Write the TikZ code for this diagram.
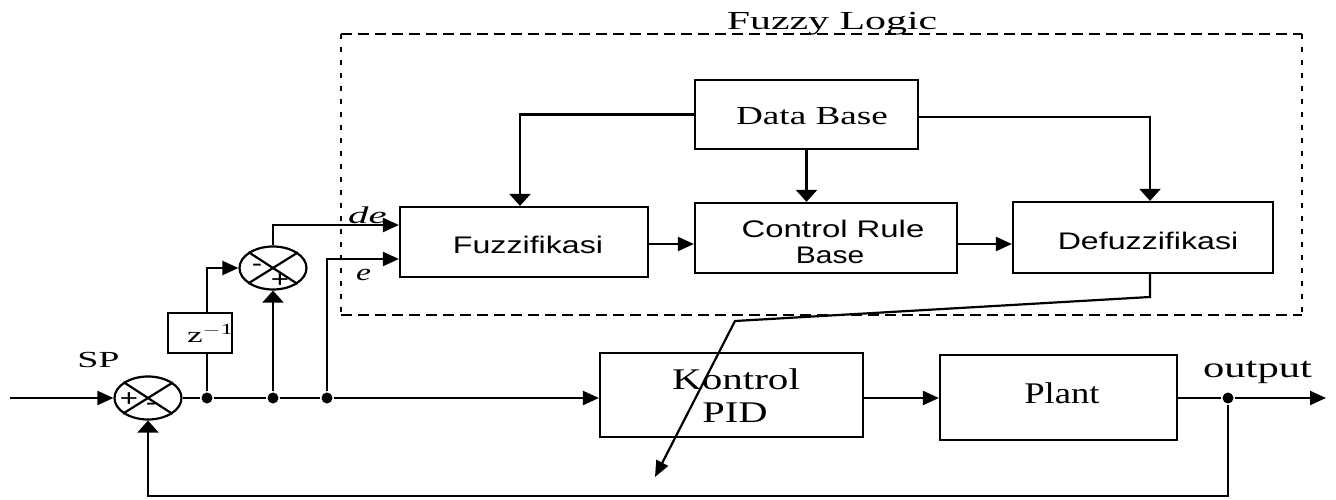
\documentclass[tikz,border=0pt]{standalone}
\usepackage{graphicx}
\usepackage{fontspec}
\setmainfont{Liberation Serif}
\setsansfont{Liberation Sans}
\usetikzlibrary{arrows.meta,shapes.geometric,calc}
\newcommand{\sxt}[2]{\scalebox{#1}[1]{#2}}
\newcommand{\fsz}[1]{\fontsize{#1}{#1}\selectfont}
\begin{document}
\begin{tikzpicture}[x=1pt,y=-1pt,
  line width=2.2pt,
  blk/.style={draw,rectangle,inner sep=0pt,line width=2.2pt},
  sumj/.style={draw,ellipse,minimum width=67pt,minimum height=43pt,inner sep=0pt,line width=2.2pt},
  lbl/.style={inner sep=0pt,anchor=base},
  ha/.style={-{Triangle[length=16pt,width=14pt]}},
  va/.style={-{Triangle[length=12pt,width=21pt]}},
  da/.style={-{Triangle[length=16pt,width=13pt]}},
  dotn/.style={circle,fill,inner sep=0pt,minimum size=11pt},
  hdash/.style={line width=1.9pt,dash pattern=on 11pt off 6pt},
  vdash/.style={line width=1.9pt,dash pattern=on 5pt off 8pt},
  sgn/.style={inner sep=0pt},
]
\useasboundingbox[fill=white] (0,0) rectangle (1336,500);

% fuzzy logic frame
\coordinate (fl1) at (341,34);
\coordinate (fl2) at (1302,34);
\coordinate (fl3) at (1302,315);
\coordinate (fl4) at (341,315);
\draw[hdash] (fl1) -- (fl2);
\draw[hdash] (fl4) -- (fl3);
\draw[vdash] (fl1) -- (fl4);
\draw[vdash] (fl2) -- (fl3);
\node[lbl] (tfl) at (832,30) {\fsz{26}\sxt{1.61}{Fuzzy Logic}};

% blocks
\node[blk,minimum width=223pt,minimum height=69pt] (db) at (806.5,114.5) {};
\node[blk,minimum width=248pt,minimum height=70pt] (fz) at (524,242) {};
\node[blk,minimum width=262pt,minimum height=70pt] (crb) at (826,238) {};
\node[blk,minimum width=260pt,minimum height=71pt] (dfz) at (1143,237.5) {};
\node[blk,minimum width=263pt,minimum height=84pt] (pid) at (731.5,395) {};
\node[blk,minimum width=237pt,minimum height=85pt] (plant) at (1058.5,397.5) {};
\node[blk,minimum width=64pt,minimum height=40pt] (zb) at (200,333) {};

\node[lbl] (tdb) at (812,125) {\fsz{26}\sxt{1.43}{Data Base}};
\node[lbl] (tfz) at (528,253) {\sffamily\fsz{24}\sxt{1.34}{Fuzzifikasi}};
\node[lbl] (tcr1) at (833,237) {\sffamily\fsz{24}\sxt{1.37}{Control Rule}};
\node[lbl] (tcr2) at (830,263) {\sffamily\fsz{24}\sxt{1.25}{Base}};
\node[lbl] (tdf) at (1148,249) {\sffamily\fsz{24}\sxt{1.34}{Defuzzifikasi}};
\node[lbl] (tpid1) at (736,389) {\fsz{30}\sxt{1.37}{Kontrol}};
\node[lbl] (tpid2) at (735,422) {\fsz{30}\sxt{1.35}{PID}};
\node[lbl] (tpl) at (1062,403) {\fsz{30}\sxt{1.22}{Plant}};
\node[lbl] (tout) at (1257.5,377) {\fsz{29}\sxt{1.47}{output}};
\node[lbl] (tsp) at (98.5,367) {\fsz{23}\sxt{1.65}{SP}};
\node[lbl] (tde) at (367.5,223) {\fsz{24}\sxt{1.7}{\itshape de}};
\node[lbl] (te) at (363.5,280) {\fsz{24}\sxt{1.4}{\itshape e}};
\node[lbl,anchor=base west] (tz) at (186,342) {\fsz{22}\sxt{1.6}{z\textsuperscript{$-$1}}};

% summing junctions
\node[sumj] (s1) at (148,398) {};
\node[sumj] (s2) at (273,268) {};
\draw (s1.32.7) -- (s1.212.7);
\draw (s1.147.3) -- (s1.327.3);
\draw (s2.32.7) -- (s2.212.7);
\draw (s2.147.3) -- (s2.327.3);
\node[sgn] (p1) at (129,400) {\sffamily\fsz{24}\sxt{1.3}{+}};
\node[sgn] (m1) at (151,407) {\sffamily\fsz{24}\sxt{1.3}{-}};
\node[sgn] (m2) at (257,268) {\sffamily\fsz{24}\sxt{1.3}{-}};
\node[sgn] (p2) at (280,281) {\sffamily\fsz{24}\sxt{1.3}{+}};

% junction dots
\node[dotn] (d1) at (207,398) {};
\node[dotn] (d2) at (273,398) {};
\node[dotn] (d3) at (327,398) {};
\node[dotn] (d4) at (1228,398) {};

\coordinate (in) at (10,398);
\coordinate (out) at (1326,398);
\coordinate (fb1) at (1228,496);
\coordinate (fb2) at (148,496);
\coordinate (de1) at (273,225);
\coordinate (e1) at (327,259);
\coordinate (k1) at (520,114.5);
\coordinate (k2) at (1150,117);
\coordinate (r1) at (0,244);
\coordinate (q1) at (1150,297);
\coordinate (q2) at (735,321);
\coordinate (q3) at (655,477);

% main loop
\draw[ha] (in) -- (s1.west);
\draw (s1.east) -- (d1) -- (d2) -- (d3);
\draw[ha] (d3) -- (d3 -| pid.west);
\draw[ha] (pid.east |- d4) -- (plant.west |- d4);
\draw (plant.east |- d4) -- (d4);
\draw[ha] (d4) -- (out);
\draw[va] (d4) -- (fb1) -- (fb2) -- (s1.south);

% derivative branch
\draw (d1) -- (d1 |- zb.south);
\draw[ha] (d1 |- zb.north) -- (d1 |- s2.west) -- (s2.west);
\draw[va] (d2) -- (s2.south);
\draw[ha] (s2.north) -- (de1) -- (fz.west |- de1);
\draw[ha] (d3) -- (e1) -- (fz.west |- e1);

% fuzzy internals
\draw[va] (db.west) -- (k1) -- (k1 |- fz.north);
\draw[va] (db.east |- k2) -- (k2) -- (k2 |- dfz.north);
\draw[va] (db.south) -- (db.south |- crb.north);
\draw[ha] (fz.east |- r1) -- (crb.west |- r1);
\draw[ha] (crb.east |- r1) -- (dfz.west |- r1);
\draw[da] (dfz.south -| q1) -- (q1) -- (q2) -- (q3);
\end{tikzpicture}
\end{document}
